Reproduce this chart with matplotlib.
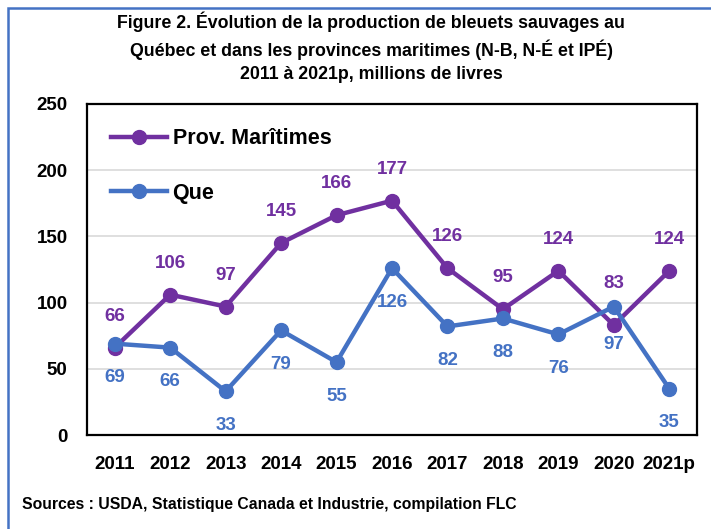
import matplotlib
matplotlib.use('Agg')
import matplotlib.pyplot as plt
from matplotlib.patches import Rectangle

plt.rcParams['font.family'] = ['Liberation Sans Narrow', 'Liberation Sans', 'DejaVu Sans']
plt.rcParams['font.weight'] = 'bold'

annees = ['2011', '2012', '2013', '2014', '2015', '2016', '2017', '2018', '2019', '2020', '2021p']
maritimes = [66, 106, 97, 145, 166, 177, 126, 95, 124, 83, 124]
quebec = [69, 66, 33, 79, 55, 126, 82, 88, 76, 97, 35]

violet = '#7030A0'
bleu = '#4472C4'

fig = plt.figure(figsize=(7.11, 5.29), dpi=100)
ax = fig.add_axes([87/711, 1 - 435/529, 610/711, 331/529])

x = list(range(len(annees)))
ax.plot(x, maritimes, color=violet, lw=3.2, marker='o', ms=10, label='Prov. Marîtimes', zorder=3)
ax.plot(x, quebec, color=bleu, lw=3.2, marker='o', ms=10, label='Que', zorder=4)

# decalages manuels des etiquettes (points)
haut = {9: 24}
bas = {9: 21}
for i in x:
    ax.annotate(str(maritimes[i]), (i, maritimes[i]), xytext=(0, haut.get(i, 16.5)),
                textcoords='offset points', ha='center', va='bottom',
                color=violet, fontsize=13.5, fontweight='bold')
    ax.annotate(str(quebec[i]), (i, quebec[i]), xytext=(0, -bas.get(i, 18.5)),
                textcoords='offset points', ha='center', va='top',
                color=bleu, fontsize=13.5, fontweight='bold')

ax.set_xlim(-0.5, len(annees) - 0.5)
ax.set_ylim(0, 250)
ax.set_yticks(range(0, 251, 50))
ax.set_xticks(x)
ax.set_xticklabels(annees)
ax.yaxis.grid(True, color='#d9d9d9', lw=1.2)
ax.set_axisbelow(True)
ax.tick_params(length=0, labelsize=13.5, pad=15)
ax.tick_params(axis='y', pad=14)
for s in ax.spines.values():
    s.set_linewidth(1.6)
    s.set_color('black')

leg = ax.legend(loc='upper left', frameon=False, fontsize=15.5, handlelength=2.6,
                labelspacing=1.55, bbox_to_anchor=(0.008, 0.985), handletextpad=0.25)

fig.text(371/711, 1 - 47/529,
         'Figure 2. Évolution de la production de bleuets sauvages au\n'
         'Québec et dans les provinces maritimes (N-B, N-É et IPÉ)\n'
         '2011 à 2021p, millions de livres',
         ha='center', va='center', fontsize=12.8, fontweight='bold', linespacing=1.45)
fig.text(22/711, 1 - 505/529, 'Sources : USDA, Statistique Canada et Industrie, compilation FLC',
         ha='left', va='center', fontsize=11.3, fontweight='bold')

fig.patches.append(Rectangle((8/711, -0.1), 1.2, 1 - 8/529 + 0.1, transform=fig.transFigure,
                             fill=False, edgecolor=bleu, lw=1.8))

fig.savefig('out.png', dpi=100)
